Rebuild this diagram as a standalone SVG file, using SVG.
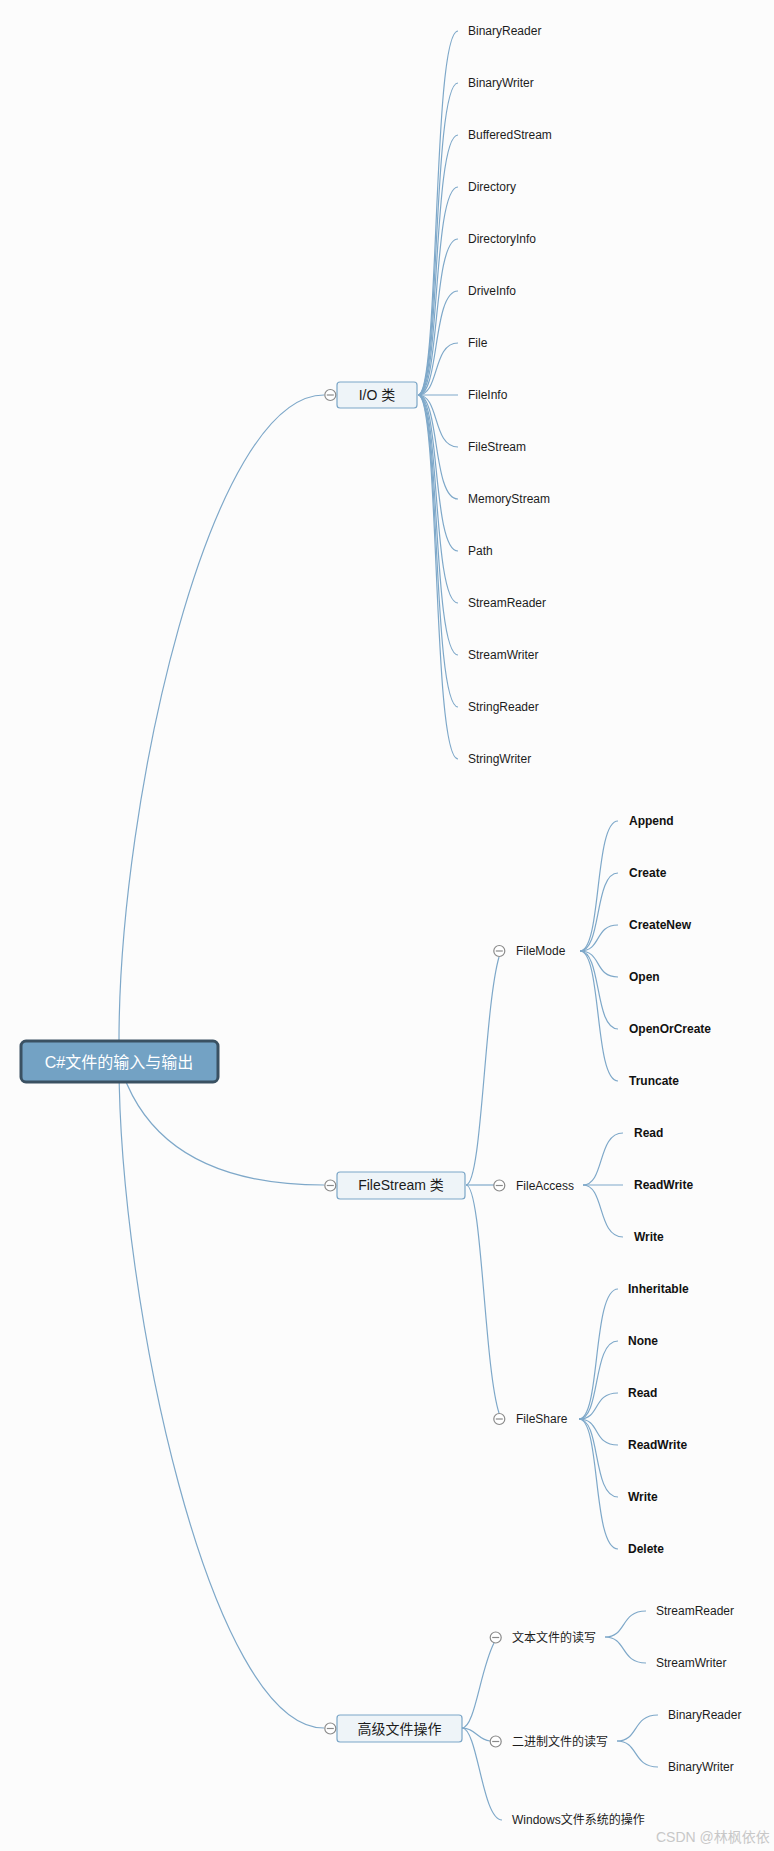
<svg xmlns="http://www.w3.org/2000/svg" width="774" height="1851" viewBox="0 0 774 1851">
<style>
text{font-family:"Liberation Sans","Noto Sans CJK SC",sans-serif;fill:#1c1c1c}
.c{fill:none;stroke:#7ea8c9;stroke-width:1.2}
.leaf{font-size:12px}
.b{font-size:12px;font-weight:bold;fill:#111}
.l2{font-size:12px}
.l1r{fill:#eef4f8;stroke:#7ba6c7;stroke-width:1.2}
.l1t{font-size:14px;text-anchor:middle}
.tog circle{fill:#fff;stroke:#8a8a8a;stroke-width:1.2}
.tog line{stroke:#8a8a8a;stroke-width:1.2}
</style>
<defs>
<g id="tg" class="tog"><circle cx="0" cy="0" r="5.5"/><line x1="-3.5" y1="0" x2="3.5" y2="0"/></g>
</defs>
<rect width="774" height="1851" fill="#fcfcfc"/>
<g id="connectors">
<path class="c" d="M119 1062 L119 1041 C119 800 210 395 324 395"/>
<path class="c" d="M119 1062 Q155 1185 324 1185"/>
<path class="c" d="M119 1062 C119 1300 210 1728 324 1728"/>
<path class="c" d="M418 395 C440 395 432 31 458 31"/>
<path class="c" d="M418 395 C440 395 432 83 458 83"/>
<path class="c" d="M418 395 C440 395 432 135 458 135"/>
<path class="c" d="M418 395 C440 395 432 187 458 187"/>
<path class="c" d="M418 395 C440 395 432 239 458 239"/>
<path class="c" d="M418 395 C440 395 432 291 458 291"/>
<path class="c" d="M418 395 C440 395 432 343 458 343"/>
<path class="c" d="M418 395 L458 395"/>
<path class="c" d="M418 395 C440 395 432 447 458 447"/>
<path class="c" d="M418 395 C440 395 432 499 458 499"/>
<path class="c" d="M418 395 C440 395 432 551 458 551"/>
<path class="c" d="M418 395 C440 395 432 603 458 603"/>
<path class="c" d="M418 395 C440 395 432 655 458 655"/>
<path class="c" d="M418 395 C440 395 432 707 458 707"/>
<path class="c" d="M418 395 C440 395 432 759 458 759"/>
<path class="c" d="M466 1185 C482 1185 484 1010 499 957"/>
<path class="c" d="M466 1185 L494 1185"/>
<path class="c" d="M466 1185 C482 1185 484 1366 499 1413"/>
<path class="c" d="M580 951 C602 951 594 821 618 821"/>
<path class="c" d="M580 951 C602 951 594 873 618 873"/>
<path class="c" d="M580 951 C602 951 594 925 618 925"/>
<path class="c" d="M580 951 C602 951 594 977 618 977"/>
<path class="c" d="M580 951 C602 951 594 1029 618 1029"/>
<path class="c" d="M580 951 C602 951 594 1081 618 1081"/>
<path class="c" d="M583 1185 C605 1185 597 1133 623 1133"/>
<path class="c" d="M583 1185 L623 1185"/>
<path class="c" d="M583 1185 C605 1185 597 1237 623 1237"/>
<path class="c" d="M579 1419 C601 1419 592 1289 618 1289"/>
<path class="c" d="M579 1419 C601 1419 592 1341 618 1341"/>
<path class="c" d="M579 1419 C601 1419 592 1393 618 1393"/>
<path class="c" d="M579 1419 C601 1419 592 1445 618 1445"/>
<path class="c" d="M579 1419 C601 1419 592 1497 618 1497"/>
<path class="c" d="M579 1419 C601 1419 592 1549 618 1549"/>
<path class="c" d="M462 1728 C475 1728 480 1670 494 1643"/>
<path class="c" d="M462 1728 C475 1728 478 1740 490 1741"/>
<path class="c" d="M462 1728 C478 1728 482 1820 502 1820"/>
<path class="c" d="M605 1637 C627 1637 620 1611 646 1611"/>
<path class="c" d="M605 1637 C627 1637 620 1663 646 1663"/>
<path class="c" d="M617 1741 C639 1741 632 1715 658 1715"/>
<path class="c" d="M617 1741 C639 1741 632 1767 658 1767"/>
</g>
<g id="root">
<rect x="21" y="1041" width="197" height="41" rx="5" fill="#73a2c4" stroke="#3a5162" stroke-width="3"/>
<text x="119" y="1068" font-size="16" text-anchor="middle" style="fill:#fff">C#文件的输入与输出</text>
</g>
<g id="io">
<rect class="l1r" x="337" y="382" width="80" height="26" rx="3"/>
<text class="l1t" x="377" y="400">I/O 类</text>
<use href="#tg" x="330.3" y="395"/>
</g>
<g id="fs">
<rect class="l1r" x="337" y="1172" width="128" height="27" rx="3"/>
<text class="l1t" x="401" y="1190">FileStream 类</text>
<use href="#tg" x="330.3" y="1185.5"/>
</g>
<g id="adv">
<rect class="l1r" x="337" y="1715" width="125" height="27" rx="3"/>
<text class="l1t" x="399.5" y="1733.5">高级文件操作</text>
<use href="#tg" x="330.3" y="1728.5"/>
</g>
<g id="io-leaves" class="leaf">
<text id="n-binaryreader" class="leaf" x="468" y="35.3">BinaryReader</text>
<text id="n-binarywriter" class="leaf" x="468" y="87.3">BinaryWriter</text>
<text id="n-bufferedstream" class="leaf" x="468" y="139.3">BufferedStream</text>
<text id="n-directory" class="leaf" x="468" y="191.3">Directory</text>
<text id="n-directoryinfo" class="leaf" x="468" y="243.3">DirectoryInfo</text>
<text id="n-driveinfo" class="leaf" x="468" y="295.3">DriveInfo</text>
<text id="n-file" class="leaf" x="468" y="347.3">File</text>
<text id="n-fileinfo" class="leaf" x="468" y="399.3">FileInfo</text>
<text id="n-filestream" class="leaf" x="468" y="451.3">FileStream</text>
<text id="n-memorystream" class="leaf" x="468" y="503.3">MemoryStream</text>
<text id="n-path" class="leaf" x="468" y="555.3">Path</text>
<text id="n-streamreader" class="leaf" x="468" y="607.3">StreamReader</text>
<text id="n-streamwriter" class="leaf" x="468" y="659.3">StreamWriter</text>
<text id="n-stringreader" class="leaf" x="468" y="711.3">StringReader</text>
<text id="n-stringwriter" class="leaf" x="468" y="763.3">StringWriter</text>
</g>
<g id="filemode">
<use href="#tg" x="499.3" y="951"/>
<text class="l2" x="516" y="955.3">FileMode</text>
</g>
<g id="filemode-leaves">
<text class="b" x="629" y="825.3">Append</text>
<text class="b" x="629" y="877.3">Create</text>
<text class="b" x="629" y="929.3">CreateNew</text>
<text class="b" x="629" y="981.3">Open</text>
<text class="b" x="629" y="1033.3">OpenOrCreate</text>
<text class="b" x="629" y="1085.3">Truncate</text>
</g>
<g id="fileaccess">
<use href="#tg" x="499.3" y="1185.5"/>
<text class="l2" x="516" y="1189.5">FileAccess</text>
</g>
<g id="fileaccess-leaves">
<text class="b" x="634" y="1137.3">Read</text>
<text class="b" x="634" y="1189.3">ReadWrite</text>
<text class="b" x="634" y="1241.3">Write</text>
</g>
<g id="fileshare">
<use href="#tg" x="499.3" y="1419"/>
<text class="l2" x="516" y="1423.3">FileShare</text>
</g>
<g id="fileshare-leaves">
<text class="b" x="628" y="1293.3">Inheritable</text>
<text class="b" x="628" y="1345.3">None</text>
<text class="b" x="628" y="1397.3">Read</text>
<text class="b" x="628" y="1449.3">ReadWrite</text>
<text class="b" x="628" y="1501.3">Write</text>
<text class="b" x="628" y="1553.3">Delete</text>
</g>
<g id="text-rw">
<use href="#tg" x="495.7" y="1637.5"/>
<text class="l2" x="512" y="1641.8">文本文件的读写</text>
<text class="leaf" x="656" y="1615.3">StreamReader</text>
<text class="leaf" x="656" y="1667.3">StreamWriter</text>
</g>
<g id="bin-rw">
<use href="#tg" x="495.7" y="1741.5"/>
<text class="l2" x="512" y="1745.8">二进制文件的读写</text>
<text class="leaf" x="668" y="1719.3">BinaryReader</text>
<text class="leaf" x="668" y="1771.3">BinaryWriter</text>
</g>
<g id="win">
<text class="l2" x="512" y="1824.3">Windows文件系统的操作</text>
</g>
<text x="656" y="1842" font-size="14" style="fill:#c8c8c8">CSDN @林枫依依</text>
</svg>
